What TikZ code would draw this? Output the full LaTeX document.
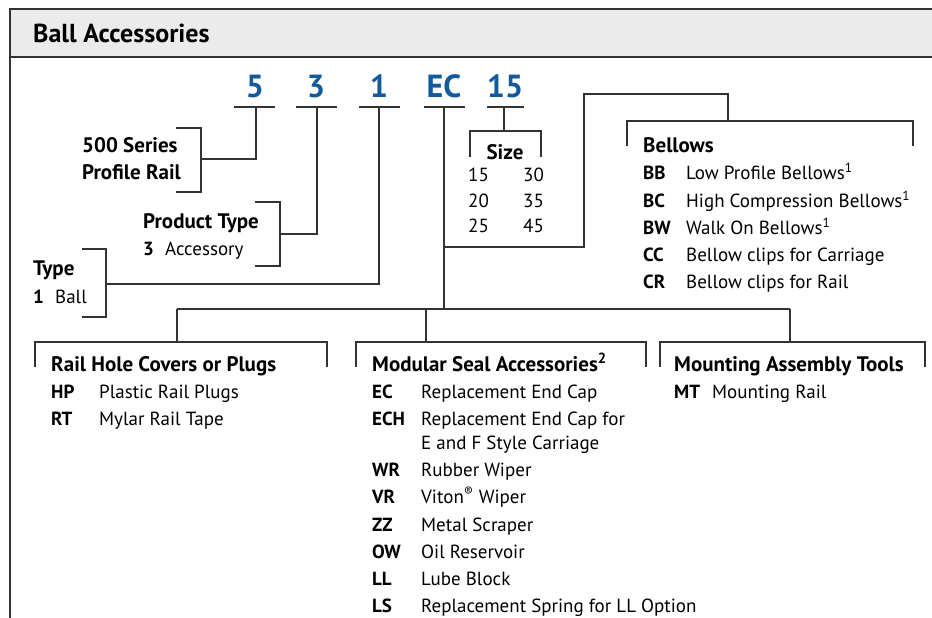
\documentclass[tikz,border=0pt]{standalone}
\usepackage{fontspec}
\setmainfont{PT Sans}
\definecolor{codeblue}{HTML}{135A9C}
\definecolor{hdrgray}{HTML}{EBEBEB}
\definecolor{linegray}{HTML}{333333}
\begin{document}
\begin{tikzpicture}[x=1pt,y=-1pt,
  conn/.style={draw=linegray, line width=1.3pt},
  uline/.style={draw=linegray, line width=2pt},
  txt/.style={anchor=base west, inner sep=0pt, font=\fontsize{19}{27}\selectfont},
  hd/.style={anchor=base west, inner sep=0pt, font=\fontsize{19}{27}\selectfont\bfseries},
  hdr/.style={anchor=base west, inner sep=0pt, font=\fontsize{21}{27}\selectfont\bfseries},
  digit/.style={anchor=base, inner sep=0pt, text=codeblue, font=\fontsize{32}{32}\selectfont\bfseries},
]
\useasboundingbox (0,0) rectangle (932,618);
% frame and header
\fill[hdrgray] (10,9) rectangle (932,57);
\draw[line width=2pt, linegray] (932,9) -- (10,9) -- (10,618);
\draw[line width=1.5pt, linegray] (10,57) -- (932,57);
\node[anchor=base west, inner sep=0pt, font=\fontsize{26}{30}\selectfont\bfseries] (title) at (33,43) {Ball Accessories};

% code digits
\node[digit] (d5) at (255,98) {5};
\node[digit] (d3) at (316,98) {3};
\node[digit] (d1) at (379,98) {1};
\node[digit] (dEC) at (444,98) {EC};
\node[digit] (d15) at (505,98) {15};
\draw[uline] (234,107) -- (275,107);
\draw[uline] (296,107) -- (337,107);
\draw[uline] (359,107) -- (400,107);
\draw[uline] (424,107) -- (465,107);
\draw[uline] (487,107) -- (524,107);

% 5 -> 500 Series
\coordinate (s5) at (256,107);
\coordinate (b5) at (201,159);
\draw[conn] (s5) |- (b5);
\draw[conn] (176,128) -- (201,128) -- (201,192) -- (176,192);
\node[hdr] (series1) at (82,152) {500 Series};
\node[hdr] (series2) at (82,179) {Profile Rail};

% 3 -> Product Type
\coordinate (s3) at (317,107);
\coordinate (b3) at (280,234);
\draw[conn] (s3) |- (b3);
\draw[conn] (255,202) -- (280,202) -- (280,266) -- (255,266);
\node[hdr] (ptype) at (143,228) {Product Type};
\node[hd] (pt3) at (143,255) {3};
\node[txt] (ptacc) at (165,255) {Accessory};

% 1 -> Type
\coordinate (s1) at (379,107);
\coordinate (b1) at (106,284);
\draw[conn] (s1) |- (b1);
\draw[conn] (82,249) -- (106,249) -- (106,317) -- (82,317);
\node[hdr] (type) at (33,275) {Type};
\node[hd] (t1) at (33,303) {1};
\node[txt] (tball) at (55,303) {Ball};

% 15 -> Size
\coordinate (s15) at (504,107);
\coordinate (b15) at (504,131);
\draw[conn] (s15) -- (b15);
\draw[conn] (470,157) -- (470,131) -- (541,131) -- (541,157);
\node[anchor=base, inner sep=0pt, font=\fontsize{21}{27}\selectfont\bfseries] (size) at (505,159) {Size};
\node[txt] (z15) at (468,181) {15};
\node[txt] (z30) at (523,181) {30};
\node[txt] (z20) at (468,207) {20};
\node[txt] (z35) at (523,207) {35};
\node[txt] (z25) at (468,232) {25};
\node[txt] (z45) at (523,232) {45};

% EC stem and bellows
\coordinate (sEC) at (444,107);
\coordinate (jEC) at (444,247);
\coordinate (mEC) at (444,309);
\coordinate (bel) at (728,121);
\draw[conn] (sEC) -- (mEC);
\draw[conn] (jEC) -- (584,247) -- (584,94) -- (728,94) -- (bel);
\draw[conn] (627,146) -- (627,121) -- (913,121) -- (913,146);
\node[hdr] (bellows) at (643,152) {Bellows};
\node[hd] (bb) at (643,179) {BB};
\node[txt] (bbt) at (686,179) {Low Profile Bellows\textsuperscript{1}};
\node[hd] (bc) at (643,207) {BC};
\node[txt] (bct) at (686,207) {High Compression Bellows\textsuperscript{1}};
\node[hd] (bw) at (643,234) {BW};
\node[txt] (bwt) at (686,234) {Walk On Bellows\textsuperscript{1}};
\node[hd] (cc) at (643,261) {CC};
\node[txt] (cct) at (686,261) {Bellow clips for Carriage};
\node[hd] (cr) at (643,288) {CR};
\node[txt] (crt) at (686,288) {Bellow clips for Rail};

% bottom distribution
\coordinate (jL) at (177,309);
\coordinate (jM) at (426,309);
\coordinate (jR) at (790,309);
\draw[conn] (jL) -- (jR);
\draw[conn] (jL) -- (177,342);
\draw[conn] (jM) -- (426,342);
\draw[conn] (jR) -- (790,342);
\draw[conn] (35,367) -- (35,342) -- (327,342) -- (327,367);
\draw[conn] (356,367) -- (356,342) -- (646,342) -- (646,367);
\draw[conn] (660,367) -- (660,342) -- (925,342) -- (925,367);

% Rail hole covers
\node[hdr] (rh) at (51,371) {Rail Hole Covers or Plugs};
\node[hd] (hp) at (51,398) {HP};
\node[txt] (hpt) at (99,398) {Plastic Rail Plugs};
\node[hd] (rt) at (51,425) {RT};
\node[txt] (rtt) at (99,425) {Mylar Rail Tape};

% Modular seal accessories
\node[hdr] (ms) at (372,371) {Modular Seal Accessories\textsuperscript{2}};
\node[hd] (ec) at (372,398) {EC};
\node[txt] (ect) at (421,398) {Replacement End Cap};
\node[hd] (ech) at (372,425) {ECH};
\node[txt] (echt) at (421,425) {Replacement End Cap for};
\node[txt] (echt2) at (421,449) {E and F Style Carriage};
\node[hd] (wr) at (372,476) {WR};
\node[txt] (wrt) at (421,476) {Rubber Wiper};
\node[hd] (vr) at (372,503) {VR};
\node[txt] (vrt) at (421,503) {Viton\textsuperscript{®} Wiper};
\node[hd] (zz) at (372,531) {ZZ};
\node[txt] (zzt) at (421,531) {Metal Scraper};
\node[hd] (ow) at (372,558) {OW};
\node[txt] (owt) at (421,558) {Oil Reservoir};
\node[hd] (ll) at (372,585) {LL};
\node[txt] (llt) at (421,585) {Lube Block};
\node[hd] (ls) at (372,612) {LS};
\node[txt] (lst) at (421,612) {Replacement Spring for LL Option};

% Mounting assembly tools
\node[hdr] (mat) at (674,371) {Mounting Assembly Tools};
\node[hd] (mt) at (674,398) {MT};
\node[txt] (mtt) at (712,398) {Mounting Rail};
\end{tikzpicture}
\end{document}
